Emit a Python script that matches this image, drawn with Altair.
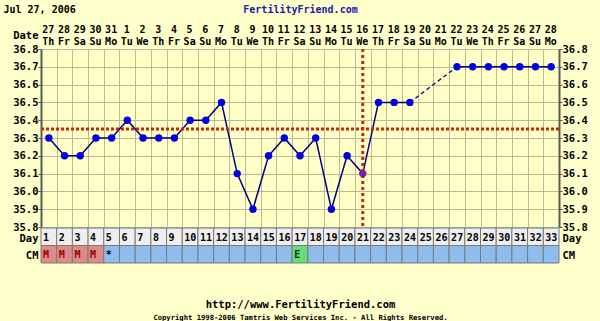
import altair as alt
import pandas as pd

# ---------------- data ----------------
days = [1, 2, 3, 4, 5, 6, 7, 8, 9, 10, 11, 12, 13, 14, 15, 16, 17,
        18, 19, 20, 21, 22, 23, 24, 25, 26, 27, 28, 29, 30, 31, 32, 33]
dates = ["27", "28", "29", "30", "31", "1", "2", "3", "4", "5", "6", "7",
         "8", "9", "10", "11", "12", "13", "14", "15", "16", "17", "18",
         "19", "20", "21", "22", "23", "24", "25", "26", "27", "28"]
weekdays = ["Th", "Fr", "Sa", "Su", "Mo", "Tu", "We", "Th", "Fr", "Sa", "Su",
            "Mo", "Tu", "We", "Th", "Fr", "Sa", "Su", "Mo", "Tu", "We", "Th",
            "Fr", "Sa", "Su", "Mo", "Tu", "We", "Th", "Fr", "Sa", "Su", "Mo"]
temps = [36.3, 36.2, 36.2, 36.3, 36.3, 36.4, 36.3, 36.3, 36.3, 36.4, 36.4,
         36.5, 36.1, 35.9, 36.2, 36.3, 36.2, 36.3, 35.9, 36.2, 36.1, 36.5,
         36.5, 36.5, None, None, 36.7, 36.7, 36.7, 36.7, 36.7, 36.7, 36.7]
cm = ["M", "M", "M", "M", "*", "", "", "", "", "", "", "", "", "", "", "",
      "E", "", "", "", "", "", "", "", "", "", "", "", "", "", "", "", ""]
temp_ticks = [35.8, 35.9, 36.0, 36.1, 36.2, 36.3, 36.4, 36.5, 36.6, 36.7, 36.8]
coverline = 36.35
ovulation_day = 21
chart_date = "Jul 27, 2006"
site = "FertilityFriend.com"
url = "http://www.FertilityFriend.com"
copyright_text = "Copyright 1998-2006 Tamtris Web Services Inc. - All Rights Reserved."

# ---------------- tables ----------------
seg_rows = []
seg = 0
prev_none = True
for d, t in zip(days, temps):
    if t is None:
        prev_none = True
        continue
    if prev_none:
        seg += 1
    prev_none = False
    seg_rows.append({"day": d, "temp": t, "seg": seg})
temp_df = pd.DataFrame(seg_rows)

# dashed connectors across gaps
conn_rows = []
for i in range(1, len(seg_rows)):
    a, b = seg_rows[i - 1], seg_rows[i]
    if a["seg"] != b["seg"]:
        conn_rows.append({"day": a["day"], "temp": a["temp"], "g": i})
        conn_rows.append({"day": b["day"], "temp": b["temp"], "g": i})
conn_df = pd.DataFrame(conn_rows)

table_rows = []
for d, c in zip(days, cm):
    table_rows.append({"day": d, "row": "Day", "label": str(d), "code": "day"})
    code = c if c in ("M", "E") else "none"
    table_rows.append({"day": d, "row": "CM", "label": c, "code": code})
table_df = pd.DataFrame(table_rows)
table_df["x0"] = table_df["day"] - 0.5
table_df["x1"] = table_df["day"] + 0.5

# ---------------- styling ----------------
FONT = "DejaVu Sans Mono"
GRID = "#B9B99E"
X = alt.Scale(domain=[0.5, 33.5], nice=False, zero=False)
Y = alt.Scale(domain=[35.8, 36.8], nice=False, zero=False)
half_ticks = [d - 0.5 for d in days] + [days[-1] + 0.5]

def arr_expr(lst):
    return "[" + ",".join("'" + s + "'" for s in lst) + "][datum.value - 1]"

common = dict(labelFont=FONT, labelFontWeight="bold", labelFontSize=10,
              labelColor="#000000", labelOverlap=False, labelFlush=False,
              titleFont=FONT, titleFontWeight="bold", titleFontSize=10.5,
              titleColor="#000000")

top_dates = alt.Axis(orient="top", values=days, labelExpr=arr_expr(dates),
                     domain=False, ticks=False, tickSize=0, grid=False,
                     labelPadding=20, labelBaseline="middle", labelOffset=-1,
                     title="Date", titleX=-3, titleY=-14, titleAlign="right",
                     titleBaseline="middle", **common)
top_days = alt.Axis(orient="top", values=days, labelExpr=arr_expr(weekdays),
                    domain=False, ticks=False, tickSize=0, grid=False,
                    labelPadding=8, labelBaseline="middle", labelOffset=-1,
                    title=site, titleX=259, titleY=-40, titleAlign="center",
                    titleBaseline="middle", **{**common, "titleColor": "#1A1AA6",
                                                "titleFontSize": 10})
bottom_grid = alt.Axis(orient="bottom", values=half_ticks, labels=False,
                       ticks=False, domain=False, grid=True, gridColor=GRID,
                       gridWidth=1, title=url, titleX=259, titleY=77,
                       titleAlign="center", titleBaseline="middle",
                       **common)
left_temp = alt.Axis(orient="left", values=temp_ticks, format=".1f",
                     grid=True, gridColor=GRID, gridWidth=1, domain=True,
                     domainColor="#5A5A5A", domainWidth=2, ticks=True,
                     tickSize=3, tickColor="#5A5A5A", labelPadding=0,
                     labelBaseline="middle", title=chart_date, titleX=-38,
                     titleY=-40, titleAngle=0, titleAlign="left",
                     titleBaseline="middle",
                     **{**common, "labelFontSize": 10.5, "titleFontSize": 10})
right_temp = alt.Axis(orient="right", values=temp_ticks, format=".1f",
                      grid=False, domain=True, domainColor="#5A5A5A",
                      domainWidth=2, ticks=True, tickSize=3,
                      tickColor="#5A5A5A", labelPadding=0,
                      labelBaseline="middle", title=None,
                      **{**common, "labelFontSize": 10.5})

line = alt.Chart(temp_df).mark_line(color="#000080", strokeWidth=1.5).encode(
    x=alt.X("day:Q", scale=X, axis=top_dates),
    y=alt.Y("temp:Q", scale=Y, axis=left_temp),
    detail="seg:N",
)
dashed = alt.Chart(conn_df).mark_line(color="#000080", strokeWidth=1.3,
                                      strokeDash=[4, 3]).encode(
    x=alt.X("day:Q", scale=X, axis=bottom_grid),
    y=alt.Y("temp:Q", scale=Y, axis=None),
    detail="g:N",
)
cover = alt.Chart(pd.DataFrame({"t": [coverline]})).mark_rule(
    color="#C8280A", strokeWidth=3, strokeDash=[3, 2]).encode(
    y=alt.Y("t:Q", scale=Y, axis=None),
)
ovul = alt.Chart(pd.DataFrame({"d": [ovulation_day]})).mark_rule(
    color="#C8280A", strokeWidth=3, strokeDash=[3, 3]).encode(
    x=alt.X("d:Q", scale=X, axis=None),
)
points = alt.Chart(temp_df).mark_circle(size=55, opacity=1).encode(
    x=alt.X("day:Q", scale=X, axis=top_days),
    y=alt.Y("temp:Q", scale=Y, axis=right_temp),
    fill=alt.condition(alt.datum.day == ovulation_day,
                       alt.value("#8020A0"), alt.value("#0000E0")),
)

temp_layer = alt.layer(line, dashed, cover, ovul, points).resolve_axis(
    x="independent", y="independent")

ROW = alt.Scale(domain=["Day", "CM"], range=[179, 214], paddingInner=0,
                paddingOuter=0)
row_left = alt.Axis(orient="left", domain=False, ticks=False, tickSize=0,
                    grid=False, labelPadding=3, labelOffset=2, title=None,
                    **{**common, "labelFontSize": 10.5})
row_right = alt.Axis(orient="right", domain=False, ticks=False, tickSize=0,
                     grid=False, labelPadding=3, labelOffset=2,
                     title=copyright_text,
                     titleX=-259, titleY=268, titleAngle=0,
                     titleAlign="center", titleBaseline="middle",
                     **{**common, "labelFontSize": 10.5, "titleFontSize": 7.2})

cells = alt.Chart(table_df).mark_rect(stroke="#7A7A7A", strokeWidth=1).encode(
    x=alt.X("x0:Q", scale=X, axis=None),
    x2="x1:Q",
    y=alt.Y("row:N", scale=ROW, axis=row_left, sort=["Day", "CM"]),
    fill=alt.Fill("code:N", legend=None, scale=alt.Scale(
        domain=["day", "M", "E", "none"],
        range=["#EEEEEE", "#DC8A8A", "#66DD77", "#8EBCEC"])),
)
cell_text = alt.Chart(table_df).mark_text(
    align="left", baseline="middle", dx=2, dy=1, font=FONT, fontSize=10,
    fontWeight="bold").encode(
    x=alt.X("x0:Q", scale=X, axis=None),
    y=alt.Y("row:N", scale=ROW, axis=row_right, sort=["Day", "CM"]),
    text="label:N",
    color=alt.Color("code:N", legend=None, scale=alt.Scale(
        domain=["day", "M", "E", "none"],
        range=["#000000", "#990000", "#003300", "#000033"])),
)
table_layer = alt.layer(cells, cell_text).resolve_axis(y="independent")

chart = alt.layer(temp_layer, table_layer).resolve_scale(
    y="independent").resolve_axis(x="independent", y="independent").properties(
    width=518, height=178,
    padding={"left": 41, "top": 49, "right": 41, "bottom": 94},
    autosize=alt.AutoSizeParams(type="none"),
    background="#FFFFCC",
).configure_view(strokeWidth=0, fill="#FFFFC6")

chart.save("out.html", embed_options={"renderer": "svg", "actions": False})
